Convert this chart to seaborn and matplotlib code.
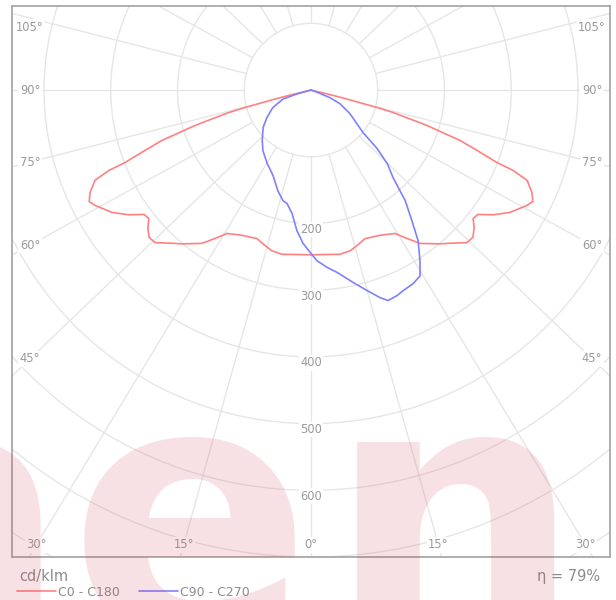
import numpy as np
import pandas as pd
import matplotlib
matplotlib.use("Agg")
import matplotlib.pyplot as plt
import seaborn as sns

# Luminous intensity distribution (cd/klm) against gamma (degrees from nadir)
# C0 - C180 plane (symmetric, same values both halves)
gamma_c0_c180 = [0, 10, 13.7, 16.5, 20, 25.4, 30.3, 32.9, 35.4, 40, 42.2, 45.6, 47.7,
                 49.8, 51.6, 53.3, 55.6, 58.4, 61.9, 63.3, 65.1, 67.3, 68.3, 68.7, 70,
                 71.3, 73, 74.7, 75.2, 76, 76.5, 77, 90]
cd_c0_c180 = [247, 250, 248, 243, 237, 241, 249, 265, 282, 301, 310, 327, 328,
              320, 310, 312, 331, 350, 367, 372, 365, 351, 326, 299, 265,
              236, 182, 128, 102, 55, 30, 0, 0]

# C90 half-plane
gamma_c90 = [0, 2, 5.2, 8.1, 12.3, 15.6, 18.4, 20.1, 22.7, 24.6, 27.8, 30.4, 32.6,
             35.4, 37.7, 40.4, 43.1, 46, 48.5, 50.7, 58.8, 64.7, 68, 70, 90]
cd_c90 = [245, 256, 267, 276, 295, 312, 328, 336, 334, 331, 328, 323, 303,
          277, 247, 218, 180, 159, 132, 101, 68, 48, 31, 11, 0]

# C270 half-plane
gamma_c270 = [0, 3, 5.7, 8.75, 11.9, 14.2, 18.2, 24, 30.9, 38.4, 44.1, 52, 58,
              65.3, 72.2, 74.4, 78, 90]
cd_c270 = [245, 230, 212, 187, 174, 171, 159, 140, 128, 116, 105, 91, 78,
           63, 44, 22, 0, 0]

ring_values = [100, 200, 300, 400, 500, 600, 700, 800, 900, 1000]
ring_labels = [200, 300, 400, 500, 600]
angle_labels = [0, 15, 30, 45, 60, 75, 90, 105]
spoke_angles = list(range(0, 360, 15))
efficiency = 79
unit_label = "cd/klm"
series_names = ["C0 - C180", "C90 - C270"]
series_colors = ["#ff8080", "#8080ff"]

sns.set_theme(style="white")
plt.rcParams["font.family"] = ["DejaVu Sans"]

W, H = 616, 600
fig = plt.figure(figsize=(W / 100, H / 100), dpi=100)
fig.patch.set_facecolor("white")

# axes frame in pixels: left 12, right 610, top 6, bottom 557
ax = fig.add_axes([12 / W, (H - 557) / H, 598 / W, 551 / H])
ax.set_xlim(-448, 448)
ax.set_ylim(-700, 126)
ax.set_xticks([])
ax.set_yticks([])
for sp in ax.spines.values():
    sp.set_color("#a8a8a8")
    sp.set_linewidth(1.3)

grid_color = "#e6e6e6"
label_color = "#9a9a9a"

# concentric rings
t = np.linspace(0, 2 * np.pi, 721)
for r in ring_values:
    ax.plot(r * np.cos(t), r * np.sin(t), color=grid_color, lw=1.0, zorder=1)

# spokes leave the first ring; the angular grid is drawn slightly widened sideways
stretch = 1.045


def spoke_dir(a_deg, side=1):
    ar = np.radians(a_deg)
    v = np.array([side * stretch * np.sin(ar), -np.cos(ar)])
    return v / np.hypot(*v)


r0 = ring_values[0]
for a in spoke_angles:
    d = spoke_dir(a)
    ax.plot([r0 * d[0], 3000 * d[0]], [r0 * d[1], 3000 * d[1]],
            color=grid_color, lw=1.0, zorder=1)

bbox = dict(facecolor="white", edgecolor="none", pad=1.0)

# ring value labels along the nadir
for r in ring_labels:
    ax.text(0, -r - 9, str(r), ha="center", va="center", color=label_color,
            fontsize=8.3, bbox=bbox, zorder=2)

# angle labels where each spoke meets an inner margin of the frame
x_in, y_top, y_bot = 421, 94, -682
for a in angle_labels:
    for side in ([1] if a == 0 else [-1, 1]):
        dx, dy = spoke_dir(a, side)
        cands = []
        if abs(dx) > 1e-9:
            cands.append(x_in / abs(dx))
        if dy < -1e-9:
            cands.append(-y_bot / abs(dy))
        tt = min(cands)
        px, py = tt * dx, min(tt * dy, y_top)
        ax.text(px, py, f"{a}°", ha="center", va="center", color=label_color,
                fontsize=8.3, bbox=bbox, zorder=2)


def half_plane(gammas, values, side):
    g = np.radians(np.asarray(gammas, dtype=float))
    v = np.asarray(values, dtype=float)
    return side * v * np.sin(g), -v * np.cos(g)


# C0 - C180 curve: C180 on the left half, C0 on the right half
xl, yl = half_plane(gamma_c0_c180, cd_c0_c180, -1)
xr, yr = half_plane(gamma_c0_c180, cd_c0_c180, 1)
df_a = pd.DataFrame({"x": np.r_[xl[::-1], xr], "y": np.r_[yl[::-1], yr]})

# C90 - C270 curve: C270 on the left half, C90 on the right half
xl, yl = half_plane(gamma_c270, cd_c270, -1)
xr, yr = half_plane(gamma_c90, cd_c90, 1)
df_b = pd.DataFrame({"x": np.r_[xl[::-1], xr], "y": np.r_[yl[::-1], yr]})

sns.lineplot(data=df_a, x="x", y="y", sort=False, estimator=None, color=series_colors[0],
             lw=1.2, ax=ax, zorder=3, label=series_names[0])
sns.lineplot(data=df_b, x="x", y="y", sort=False, estimator=None, color=series_colors[1],
             lw=1.2, ax=ax, zorder=3, label=series_names[1])
ax.set_xlabel("")
ax.set_ylabel("")
handles, labels = ax.get_legend_handles_labels()
ax.get_legend().remove()

fig.legend(handles, labels, loc="center left", bbox_to_anchor=(17 / W, 1 - 592 / H),
           ncol=2, frameon=False, fontsize=9, labelcolor="#8c8c8c",
           handlelength=3.1, handletextpad=0.15, columnspacing=1.55,
           borderpad=0, borderaxespad=0)

fig.text(19 / W, 1 - 576 / H, unit_label, ha="left", va="center", fontsize=10.5,
         color="#8c8c8c")
fig.text(600 / W, 1 - 576 / H, f"η = {efficiency}%", ha="right", va="center",
         fontsize=10.5, color="#8c8c8c")

# faint brand watermark across the lower part
wm = dict(fontsize=258, fontweight="bold", color="#d23c4b", alpha=0.15,
          ha="center", va="baseline", zorder=10, family="DejaVu Sans")
for ch, cx in (("a", -52), ("e", 190), ("n", 454)):
    fig.text(cx / W, 1 - 638 / H, ch, **wm)

fig.savefig("out.png", dpi=100)
